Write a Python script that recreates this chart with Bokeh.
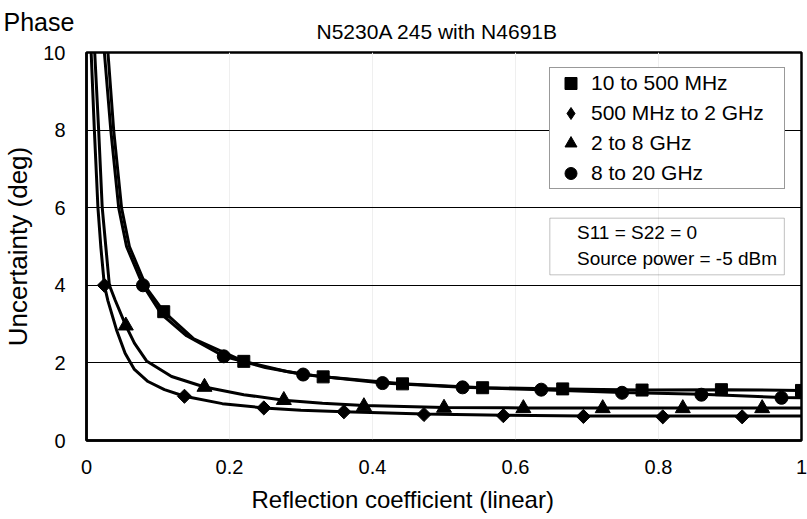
import math
from bokeh.plotting import figure
from bokeh.models import (Range1d, FixedTicker, Label, Legend, LegendItem,
                          BoxAnnotation, Title)
from bokeh.embed import file_html
from bokeh.resources import INLINE

# ---------------- data ----------------
# 10 to 500 MHz (squares)
sq_line_x = [0.030, 0.038, 0.049, 0.060, 0.085, 0.108, 0.15, 0.22, 0.28, 0.331,
             0.442, 0.554, 0.666, 0.777, 0.888, 1.0]
sq_line_y = [10.0, 8.0, 6.0, 5.0, 3.9, 3.32, 2.62, 2.04, 1.78, 1.64,
             1.46, 1.36, 1.33, 1.30, 1.31, 1.29]
sq_mark_x = [0.108, 0.22, 0.331, 0.442, 0.554, 0.666, 0.777, 0.888, 1.0]
sq_mark_y = [3.32, 2.04, 1.64, 1.46, 1.36, 1.33, 1.30, 1.31, 1.29]

# 500 MHz to 2 GHz (diamonds)
di_line_x = [0.0065, 0.011, 0.016, 0.020, 0.025, 0.030, 0.042, 0.054, 0.067,
             0.086, 0.109, 0.137, 0.19, 0.248, 0.30, 0.36, 0.472, 0.583,
             0.695, 0.806, 0.917, 1.0]
di_line_y = [10.0, 8.0, 6.0, 5.0, 4.0, 3.6, 2.85, 2.25, 1.83,
             1.52, 1.31, 1.14, 0.95, 0.84, 0.78, 0.74, 0.68, 0.65,
             0.63, 0.63, 0.63, 0.63]
di_mark_x = [0.025, 0.137, 0.248, 0.36, 0.472, 0.583, 0.695, 0.806, 0.917]
di_mark_y = [4.0, 1.14, 0.84, 0.74, 0.67, 0.64, 0.62, 0.61, 0.61]

# 2 to 8 GHz (triangles)
tr_line_x = [0.0115, 0.017, 0.022, 0.027, 0.032, 0.040, 0.055, 0.067, 0.084,
             0.119, 0.165, 0.22, 0.276, 0.33, 0.388, 0.50, 0.611, 0.722,
             0.834, 0.945, 1.0]
tr_line_y = [10.0, 8.0, 6.0, 5.0, 4.0, 3.62, 2.96, 2.51, 2.05,
             1.65, 1.38, 1.18, 1.04, 0.96, 0.90, 0.85, 0.84, 0.84,
             0.84, 0.84, 0.84]
tr_mark_x = [0.055, 0.165, 0.276, 0.388, 0.50, 0.611, 0.722, 0.834, 0.945]
tr_mark_y = [2.96, 1.38, 1.04, 0.88, 0.84, 0.83, 0.83, 0.83, 0.83]

# 8 to 20 GHz (circles)
ci_line_x = [0.025, 0.034, 0.045, 0.056, 0.079, 0.105, 0.14, 0.192, 0.25,
             0.303, 0.414, 0.526, 0.636, 0.749, 0.86, 0.972, 1.0]
ci_line_y = [10.0, 8.0, 6.0, 5.0, 4.0, 3.25, 2.7, 2.17, 1.88,
             1.70, 1.48, 1.37, 1.31, 1.24, 1.19, 1.11, 1.10]
ci_mark_x = [0.079, 0.192, 0.303, 0.414, 0.526, 0.636, 0.749, 0.86, 0.972]
ci_mark_y = [4.0, 2.17, 1.70, 1.48, 1.37, 1.31, 1.23, 1.18, 1.10]

series_names = ["10 to 500 MHz", "500 MHz to 2 GHz", "2 to 8 GHz", "8 to 20 GHz"]
x_ticks = [0, 0.2, 0.4, 0.6, 0.8, 1]
x_tick_labels = ["0", "0.2", "0.4", "0.6", "0.8", "1"]
y_ticks = [0, 2, 4, 6, 8, 10]
title_text = "Phase"
subtitle_text = "N5230A 245 with N4691B"
x_label = "Reflection coefficient (linear)"
y_label = "Uncertainty (deg)"
note_lines = ["S11 = S22 = 0", "Source power = -5 dBm"]

# ---------------- styling ----------------
FONT = "Liberation Sans"

p = figure(width=807, height=519, output_backend="svg", toolbar_location=None,
           x_range=Range1d(0, 1), y_range=Range1d(0, 10),
           min_border_left=85, min_border_right=6,
           min_border_top=52, min_border_bottom=78)
p.background_fill_color = "white"
p.border_fill_color = "white"
p.outline_line_color = "black"
p.outline_line_width = 2.5
p.outline_line_alpha = 1.0

for ax in (p.xaxis, p.yaxis):
    ax.major_tick_in = 0
    ax.major_tick_out = 0
    ax.minor_tick_in = 0
    ax.minor_tick_out = 0
    ax.axis_line_color = "black"
    ax.axis_line_width = 2.5
    ax.major_label_text_font = FONT
    ax.major_label_text_font_size = "20px"
    ax.major_label_text_color = "black"

p.xaxis.ticker = FixedTicker(ticks=x_ticks)
p.xaxis.major_label_overrides = dict(zip(x_ticks, x_tick_labels))
p.xaxis.major_label_standoff = 19
p.yaxis.ticker = FixedTicker(ticks=y_ticks)
p.yaxis.major_label_standoff = 21
p.yaxis.axis_label = y_label
p.yaxis.axis_label_text_font = FONT
p.yaxis.axis_label_text_font_size = "26px"
p.yaxis.axis_label_text_font_style = "normal"
p.yaxis.axis_label_text_color = "black"
p.yaxis.axis_label_standoff = 7

p.xgrid.ticker = FixedTicker(ticks=x_ticks)
p.xgrid.grid_line_color = "#efefef"
p.xgrid.grid_line_width = 1
p.ygrid.ticker = FixedTicker(ticks=y_ticks)
p.ygrid.grid_line_color = "black"
p.ygrid.grid_line_width = 1

# titles (subtitle nearest to the frame, "Phase" outside it)
sub_title = Title(text=subtitle_text, align="left", offset=230,
                  vertical_align="bottom", standoff=19,
                  text_font=FONT, text_font_size="21px",
                  text_font_style="normal", text_color="black")
phase_title = Title(text=title_text, align="left", offset=-83,
                    vertical_align="bottom", standoff=-54,
                    text_font=FONT, text_font_size="25px",
                    text_font_style="normal", text_color="black")
p.add_layout(sub_title, "above")
p.add_layout(phase_title, "above")

# x axis title, below the tick labels
x_title = Title(text=x_label, align="left", offset=165,
                vertical_align="bottom", standoff=14,
                text_font=FONT, text_font_size="24px",
                text_font_style="normal", text_color="black")
p.add_layout(x_title, "below")

# curves
LW = 3
p.line(sq_line_x, sq_line_y, line_color="black", line_width=LW)
p.line(ci_line_x, ci_line_y, line_color="black", line_width=LW)
p.line(di_line_x, di_line_y, line_color="black", line_width=LW)
p.line(tr_line_x, tr_line_y, line_color="black", line_width=LW)

# markers
r_sq = p.scatter(sq_mark_x, sq_mark_y, marker="square", size=12,
                 fill_color="black", line_color="black")
r_di = p.scatter(di_mark_x, di_mark_y, marker="square", angle=math.pi / 4,
                 size=10, fill_color="black", line_color="black")
r_di_leg = p.scatter(di_mark_x, di_mark_y, marker="diamond", size=14,
                     fill_color="black", line_color="black", visible=False)
r_tr = p.scatter(tr_mark_x, tr_mark_y, marker="triangle", size=15,
                 fill_color="black", line_color="black")
r_ci = p.scatter(ci_mark_x, ci_mark_y, marker="circle", size=13,
                 fill_color="black", line_color="black")

legend = Legend(items=[LegendItem(label=series_names[0], renderers=[r_sq]),
                       LegendItem(label=series_names[1], renderers=[r_di_leg]),
                       LegendItem(label=series_names[2], renderers=[r_tr]),
                       LegendItem(label=series_names[3], renderers=[r_ci])],
                location=(463, 251), padding=0, spacing=0, margin=0,
                glyph_width=41, glyph_height=30, label_standoff=0,
                label_width=193,
                border_line_color="#333333", border_line_width=1,
                background_fill_color="white", background_fill_alpha=1.0,
                label_text_font=FONT, label_text_font_size="21px",
                label_text_color="black")
p.add_layout(legend)

# note box
p.add_layout(BoxAnnotation(left=0.648, right=0.976, bottom=4.27, top=5.73,
                           fill_alpha=0.0, line_color="#333333",
                           line_width=1))
p.add_layout(Label(x=0.686, y=5.35, text=note_lines[0], text_font=FONT,
                   text_font_size="19px", text_baseline="middle",
                   text_color="black"))
p.add_layout(Label(x=0.686, y=4.70, text=note_lines[1], text_font=FONT,
                   text_font_size="19px", text_baseline="middle",
                   text_color="black"))

open("out.html", "w").write(file_html(p, INLINE))
